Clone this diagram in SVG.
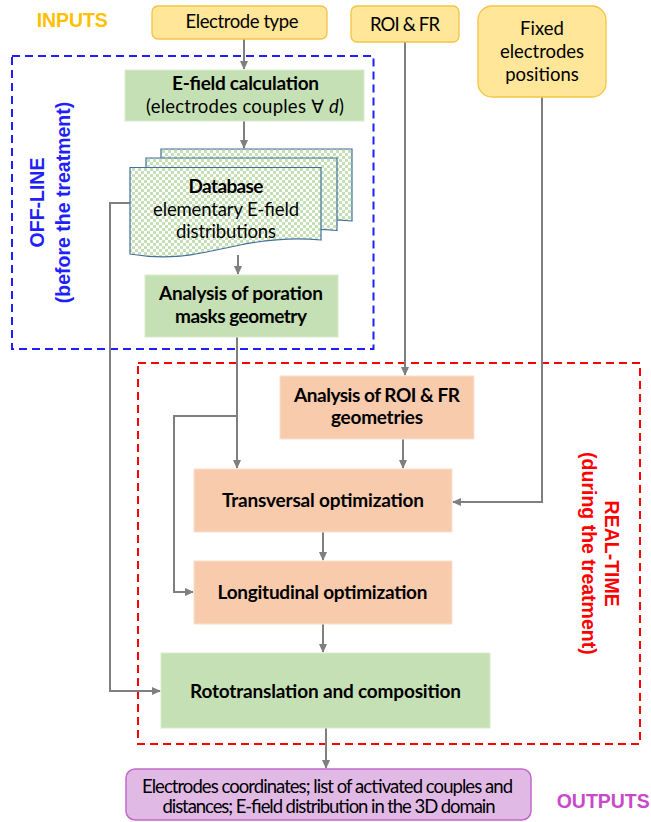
<svg xmlns="http://www.w3.org/2000/svg" width="651" height="822" viewBox="0 0 651 822">
<style>
.box{font-family:Lato,"Liberation Sans","DejaVu Sans",sans-serif;fill:#000;text-anchor:middle}
.b{font-weight:bold;font-size:19px}
.r{font-size:18.5px}
.lab{font-family:"Liberation Sans",Arial,sans-serif;font-weight:bold;font-size:19.5px}
.green{fill:#C5E0B4;stroke:#D9EBCD;stroke-width:1}
.orange{fill:#F8CBAD;stroke:#FBE0CC;stroke-width:1}
.yellow{fill:#FFE699;stroke:#F5C342;stroke-width:1.3}
.conn{fill:none;stroke:#7F7F7F;stroke-width:2}
.doc{fill:url(#check);stroke:#41719C;stroke-width:1.2}
</style>
<defs>
<pattern id="check" width="6" height="6" patternUnits="userSpaceOnUse">
<rect width="6" height="6" fill="#FFFFFF"/>
<rect width="3" height="3" fill="#C5E0B4"/>
<rect x="3" y="3" width="3" height="3" fill="#C5E0B4"/>
</pattern>
<marker id="arr" markerUnits="userSpaceOnUse" markerWidth="9" markerHeight="8" refX="8" refY="4" orient="auto">
<path d="M0,0 L9,4 L0,8 z" fill="#7F7F7F"/>
</marker>
</defs>

<g id="regions">
<rect x="12" y="56" width="361.5" height="293" fill="none" stroke="#1F1FFF" stroke-width="2" stroke-dasharray="8,5"/>
<rect x="138" y="363" width="502" height="381" fill="none" stroke="#FF0000" stroke-width="2" stroke-dasharray="8,5"/>
</g>

<g id="labels">
<text class="lab" x="36.7" y="27.3" fill="#FFC000" textLength="71">INPUTS</text>
<text class="lab" x="556.7" y="807.5" fill="#C84ACB" textLength="93">OUTPUTS</text>
<text class="lab" fill="#1F1FFF" text-anchor="middle" transform="translate(44,202.5) rotate(-90)">OFF-LINE</text>
<text class="lab" fill="#1F1FFF" text-anchor="middle" transform="translate(70,202.5) rotate(-90)">(before the treatment)</text>
<text class="lab" fill="#FF0000" text-anchor="middle" transform="translate(604.7,553.7) rotate(90)">REAL-TIME</text>
<text class="lab" fill="#FF0000" text-anchor="middle" transform="translate(582,553.4) rotate(90)">(during the treatment)</text>
</g>

<g id="connectors">
<path class="conn" d="M244,39 V69" marker-end="url(#arr)"/>
<path class="conn" d="M244,121 V148" marker-end="url(#arr)"/>
<path class="conn" d="M238,255 V274" marker-end="url(#arr)"/>
<path class="conn" d="M130,203 H110 V691 H160" marker-end="url(#arr)"/>
<path class="conn" d="M237,337 V468" marker-end="url(#arr)"/>
<path class="conn" d="M237,416 H174 V592 H193" marker-end="url(#arr)"/>
<path class="conn" d="M405,42 V375" marker-end="url(#arr)"/>
<path class="conn" d="M403,439 V468" marker-end="url(#arr)"/>
<path class="conn" d="M542,97 V502 H453" marker-end="url(#arr)"/>
<path class="conn" d="M323,532 V560" marker-end="url(#arr)"/>
<path class="conn" d="M323,624 V652" marker-end="url(#arr)"/>
<path class="conn" d="M326,728 V768" marker-end="url(#arr)"/>
</g>

<g id="electrode-type">
<rect class="yellow" x="152" y="6" width="175" height="33" rx="6"/>
<text class="box r" x="242" y="28" textLength="113">Electrode type</text>
</g>

<g id="roi-fr">
<rect class="yellow" x="351" y="6" width="108" height="36" rx="6"/>
<text class="box r" x="405" y="30.5" textLength="70">ROI &amp; FR</text>
</g>

<g id="fixed-electrodes">
<rect class="yellow" x="478" y="6" width="128" height="91" rx="14"/>
<text class="box r" x="542" y="35">Fixed</text>
<text class="box r" x="542" y="58" textLength="84">electrodes</text>
<text class="box r" x="542" y="80.5">positions</text>
</g>

<g id="efield-calc">
<rect class="green" x="125" y="70" width="239" height="51"/>
<text class="box b" x="245.5" y="90" textLength="147">E-field calculation</text>
<text class="box r" x="245" y="113" textLength="198">(electrodes  couples ∀ <tspan font-style="italic">d</tspan>)</text>
</g>

<g id="database">
<path class="doc" d="M161,149 H352 V221 C331,219 306,219 271,226 C236,233 206,243 161,235 Z"/>
<path class="doc" d="M146,158 H337 V230.5 C316,228.5 291,228.5 256,235.5 C221,242.5 191,252.5 146,244.5 Z"/>
<path class="doc" d="M130,167.5 H321 V240 C300,238 275,238 240,245 C205,252 175,262 130,254 Z"/>
<text class="box b" x="226" y="193" textLength="75">Database</text>
<text class="box r" x="226" y="215.5" textLength="146">elementary E-field</text>
<text class="box r" x="226" y="238" textLength="100">distributions</text>
</g>

<g id="poration-analysis">
<rect class="green" x="145" y="275" width="193" height="62"/>
<text class="box b" x="241" y="300" textLength="164">Analysis of poration</text>
<text class="box b" x="241" y="323" textLength="132">masks geometry</text>
</g>

<g id="roi-analysis">
<rect class="orange" x="280" y="376" width="194" height="63"/>
<text class="box b" x="377" y="401.5" textLength="166">Analysis of ROI &amp; FR</text>
<text class="box b" x="377" y="424" textLength="92">geometries</text>
</g>

<g id="transversal">
<rect class="orange" x="194" y="469" width="258" height="63"/>
<text class="box b" x="323" y="506.5" textLength="202">Transversal optimization</text>
</g>

<g id="longitudinal">
<rect class="orange" x="194" y="561" width="258" height="63"/>
<text class="box b" x="322.5" y="599" textLength="210">Longitudinal optimization</text>
</g>

<g id="rototranslation">
<rect class="green" x="161" y="653" width="329" height="75"/>
<text class="box b" x="325.5" y="697.5" textLength="271">Rototranslation and composition</text>
</g>

<g id="outputs">
<rect x="126" y="769" width="405" height="51" rx="9" fill="#E0B9E5" stroke="#C468CB" stroke-width="1.5"/>
<text class="box r" x="327.5" y="792.5" textLength="371">Electrodes coordinates; list of activated couples and</text>
<text class="box r" x="329" y="812.5" textLength="333">distances; E-field distribution in the 3D domain</text>
</g>
</svg>
